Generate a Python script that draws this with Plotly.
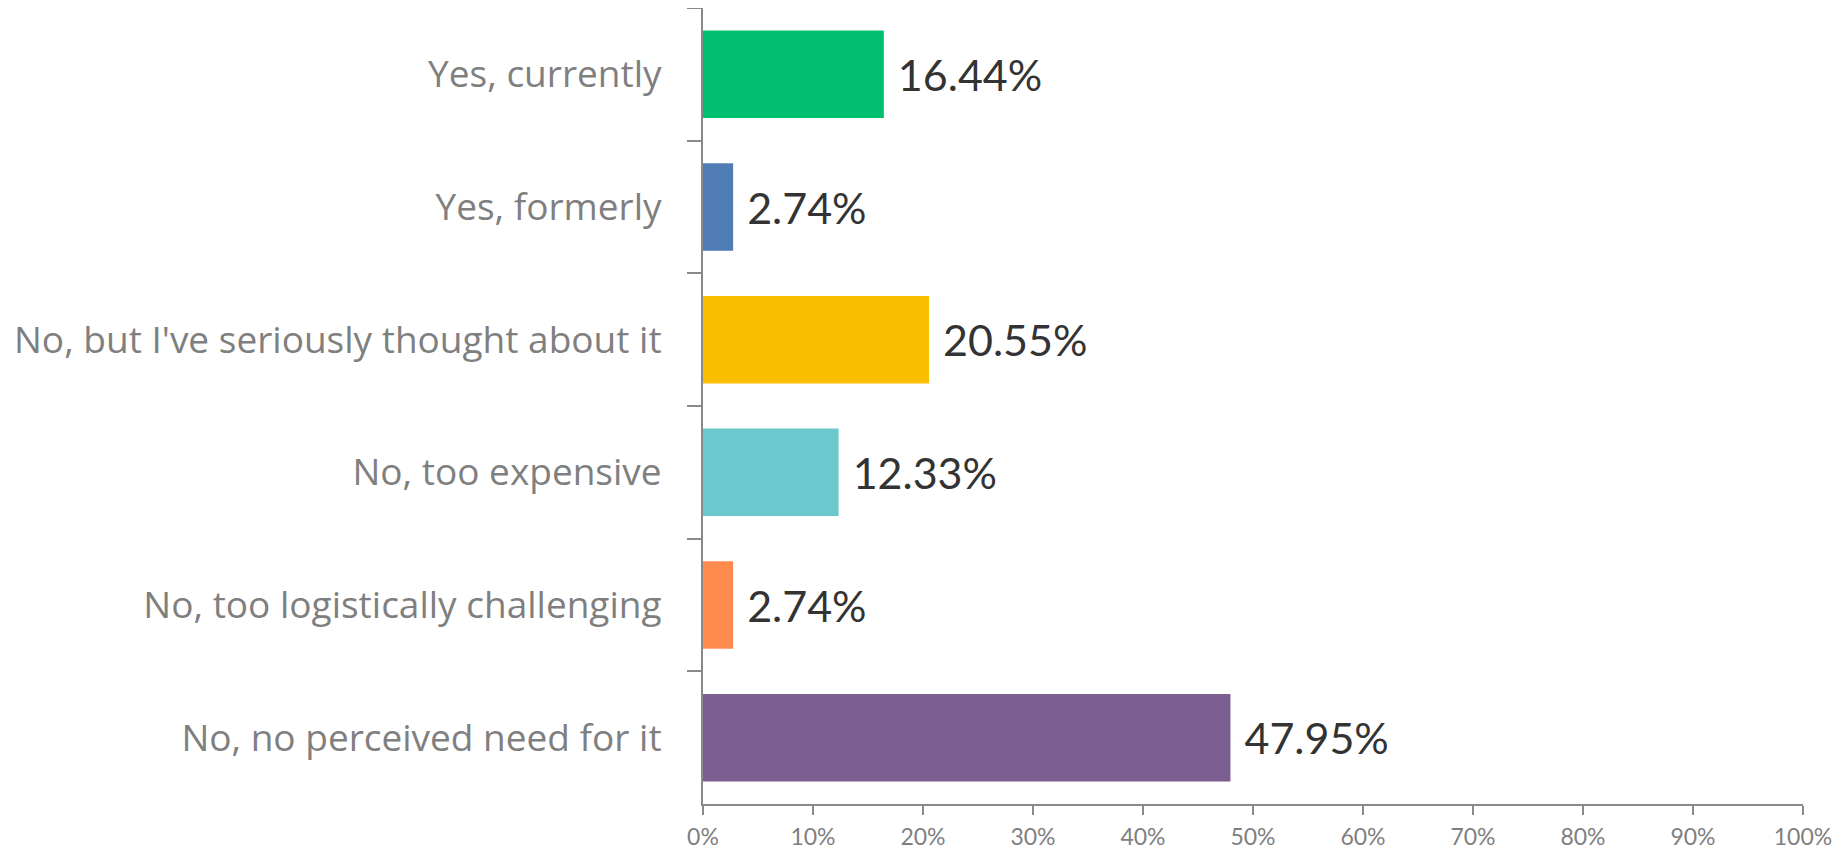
import plotly.graph_objects as go

# survey answers, top to bottom as in the chart
answers = ["Yes, currently", "Yes, formerly", "No, but I've seriously thought about it",
           "No, too expensive", "No, too logistically challenging", "No, no perceived need for it"]
shares = [16.44, 2.74, 20.55, 12.33, 2.74, 47.95]
bar_colors = ["#00BF6F", "#507CB6", "#F9BE00", "#6BC8CD", "#FF8B4F", "#7D5E90"]
x_ticks = [0, 10, 20, 30, 40, 50, 60, 70, 80, 90, 100]

fig = go.Figure(go.Bar(
    x=shares,
    y=answers,
    orientation="h",
    marker=dict(color=bar_colors, line=dict(width=0)),
    # leading nbsp gives the gap between bar end and label
    text=[f"\u00a0{v:.2f}%" for v in shares],
    textposition="outside",
    textfont=dict(family="Lato", size=43, color="#333333"),
    cliponaxis=False,
))

# page body has an 8px margin, so the figure is a bit smaller
fig.update_layout(
    width=1839, height=841,
    margin=dict(l=695, r=44, t=0, b=45),
    paper_bgcolor="white", plot_bgcolor="white",
    bargap=0.34,
    showlegend=False,
)
fig.update_xaxes(
    range=[0, 100], tickvals=x_ticks, ticktext=[f"{t}%" for t in x_ticks],
    showgrid=False, zeroline=False, automargin=False,
    showline=True, linecolor="#898989", linewidth=2,
    ticks="outside", ticklen=9, tickcolor="#898989", tickwidth=2,
    ticklabelstandoff=2,
    tickfont=dict(family="Lato", size=23, color="#7f7f7f"),
)
fig.update_yaxes(
    autorange="reversed", categoryorder="array", categoryarray=answers,
    showgrid=False, zeroline=False, automargin=False,
    showline=True, linecolor="#898989", linewidth=2,
    ticks="outside", ticklen=14, tickcolor="#898989", tickwidth=2,
    tickson="boundaries", ticklabelstandoff=32,
    tickfont=dict(family="Open Sans", size=37, color="#7f7f7f"),
)

fig.write_html("out.html")
